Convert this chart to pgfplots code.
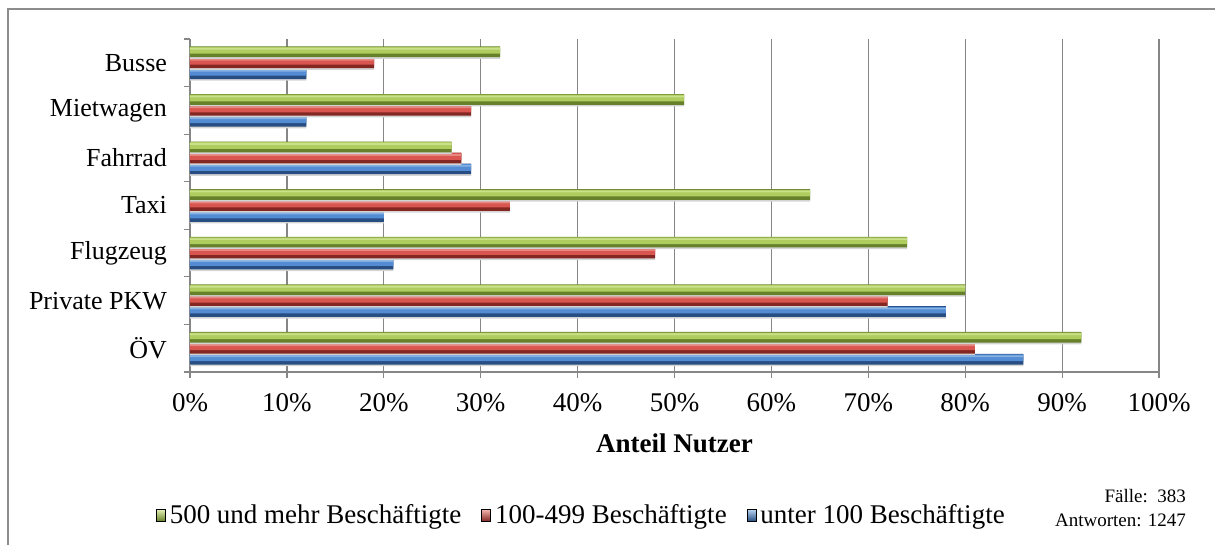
\documentclass[border=0pt]{standalone}
\usepackage{fontspec}
\setmainfont{Liberation Serif}
\usepackage{pgfplots}
\usepackage{pgfplotstable}
\pgfplotsset{compat=1.18}

\definecolor{gTop}{HTML}{E6F4B8}
\definecolor{gMid}{HTML}{AECD5E}
\definecolor{gBot}{HTML}{66812A}
\definecolor{rTop}{HTML}{F8B8B2}
\definecolor{rMid}{HTML}{D9554F}
\definecolor{rBot}{HTML}{842722}
\definecolor{bTop}{HTML}{BAD7F5}
\definecolor{bMid}{HTML}{538CD2}
\definecolor{bBot}{HTML}{274D82}
\definecolor{gridgray}{HTML}{868686}
\definecolor{framegray}{HTML}{8C8C8C}
\definecolor{shadowgray}{HTML}{D4D4D4}

% share of users by company size (percent); pos 0 = bottom row
\pgfplotstableread{
pos big mid small
0   92  81  86
1   80  72  78
2   74  48  21
3   64  33  20
4   27  28  29
5   51  29  12
6   32  19  12
}\usage

% one bar series, built from stacked strips for a rounded, lit look
% #1 column, #2 bar centre offset, #3 dark, #4 mid, #5 light
\newcommand{\litbars}[5]{%
  \addplot[forget plot, draw=none, fill=shadowgray, bar width=0.225, bar shift={#2-0.035}]
    table[x=#1, y=pos] {\usage};
  \addplot[forget plot, draw=none, fill=#3, bar width=0.225, bar shift=#2]
    table[x=#1, y=pos] {\usage};
  \addplot[forget plot, draw=none, fill=#4, bar width=0.14, bar shift={#2+0.03}]
    table[x=#1, y=pos] {\usage};
  \addplot[forget plot, draw=none, fill=#4!50!#5, bar width=0.035, bar shift={#2+0.0625}]
    table[x=#1, y=pos] {\usage};
}

\begin{document}
\begin{tikzpicture}
\useasboundingbox (0pt,0pt) rectangle (607.5pt,272.5pt);
\draw[framegray, line width=0.6pt] (4pt,0pt) -- (4pt,268pt) -- (607.5pt,268pt);

\begin{axis}[
  scale only axis,
  width=484.5pt, height=166.5pt,
  at={(95pt,86.5pt)}, anchor=south west,
  xbar,
  xmin=0, xmax=100, ymin=-0.5, ymax=6.5,
  axis x line=bottom, axis y line=left,
  axis line style={-, gridgray, line width=0.6pt},
  xtick={0,10,...,100},
  xticklabel={\pgfmathprintnumber{\tick}\%},
  ytick={0,...,6},
  yticklabels={ÖV, Private PKW, Flugzeug, Taxi, Fahrrad, Mietwagen, Busse},
  minor ytick={-0.5,0.5,...,6.5},
  every major y tick/.append style={draw=none},
  tick align=outside,
  major tick length=3pt, minor tick length=3pt,
  tick style={gridgray, line width=0.6pt},
  xmajorgrids,
  major grid style={gridgray, line width=0.6pt},
  /pgf/number format/assume math mode=true,
  xticklabel style={font=\fontsize{13.5}{15}\selectfont, yshift=-4pt},
  yticklabel style={font=\fontsize{13}{15}\selectfont, xshift=-5pt},
  legend columns=3,
  legend style={at={(axis description cs:0.405,-0.43)}, anchor=center,
    draw=none, fill=none, font=\fontsize{13.5}{15}\selectfont,
    /tikz/every even column/.append style={column sep=8pt},
    inner sep=0pt},
  legend cell align=left,
]
\litbars{small}{-0.23}{bBot}{bMid}{bTop}
\litbars{mid}{0}{rBot}{rMid}{rTop}
\litbars{big}{0.23}{gBot}{gMid}{gTop}

\addlegendimage{legend image code/.code={\fill[top color=gTop, middle color=gMid, bottom color=gBot] (0pt,-3pt) rectangle (4.4pt,3pt);}}
\addlegendentry{500 und mehr Beschäftigte}
\addlegendimage{legend image code/.code={\fill[top color=rTop, middle color=rMid, bottom color=rBot] (0pt,-3pt) rectangle (4.4pt,3pt);}}
\addlegendentry{100-499 Beschäftigte}
\addlegendimage{legend image code/.code={\fill[top color=bTop, middle color=bMid, bottom color=bBot] (0pt,-3pt) rectangle (4.4pt,3pt);}}
\addlegendentry{unter 100 Beschäftigte}
\end{axis}

\node[font=\bfseries\fontsize{13.5}{15}\selectfont] at (337.25pt,51pt) {Anteil Nutzer};
\node[anchor=east, font=\fontsize{9.5}{11}\selectfont] at (596.5pt,24.5pt) {Fälle:\ \ 383};
\node[anchor=east, font=\fontsize{9.5}{11}\selectfont] at (596.5pt,12.5pt) {Antworten: 1247};
\end{tikzpicture}
\end{document}
